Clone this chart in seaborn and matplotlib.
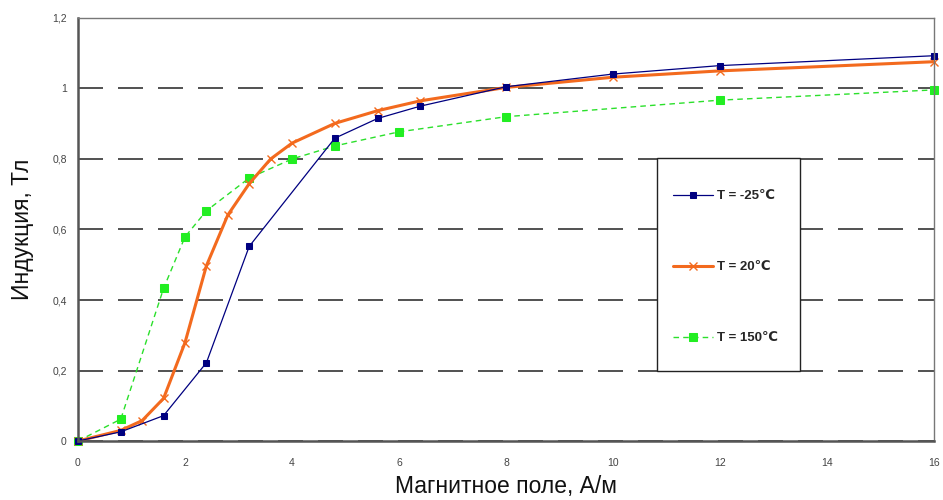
import matplotlib
matplotlib.use("Agg")
import matplotlib.pyplot as plt
from matplotlib.patches import Rectangle
from matplotlib.ticker import MultipleLocator, FuncFormatter
import seaborn as sns

# ------------------------------------------------------------
# data
# ------------------------------------------------------------
x_cold = [0, 0.8, 1.6, 2.4, 3.2, 4.8, 5.6, 6.4, 8, 10, 12, 16]
y_cold = [0, 0.026, 0.072, 0.222, 0.552, 0.859, 0.915, 0.950, 1.005, 1.041, 1.065, 1.093]

x_room = [0, 0.8, 1.2, 1.6, 2.0, 2.4, 2.8, 3.2, 3.6, 4.0, 4.8, 5.6, 6.4, 8, 10, 12, 16]
y_room = [0, 0.03, 0.058, 0.121, 0.279, 0.497, 0.641, 0.73, 0.80, 0.845, 0.901,
          0.937, 0.965, 1.003, 1.032, 1.050, 1.076]

x_hot = [0, 0.8, 1.6, 2.0, 2.4, 3.2, 4.0, 4.8, 6.0, 8, 12, 16]
y_hot = [0, 0.062, 0.433, 0.579, 0.653, 0.746, 0.80, 0.837, 0.877, 0.920, 0.967, 0.996]

labels = ["T = -25\u2103", "T = 20\u2103", "T = 150\u2103"]

sns.set_style("white")
plt.rcParams['font.family'] = ['Liberation Sans', 'DejaVu Sans']

fig = plt.figure(figsize=(9.43, 5.0), dpi=100)
ax = fig.add_axes([0.0827, 0.118, 0.9078, 0.846])

sns.lineplot(x=x_cold, y=y_cold, ax=ax, color='#000080', linewidth=0.9,
             marker='s', markersize=5, markeredgecolor='#000080',
             label=labels[0], sort=False, clip_on=False, zorder=5)
sns.lineplot(x=x_room, y=y_room, ax=ax, color='#F36A1E', linewidth=2.2,
             marker='x', markersize=5.5, markeredgewidth=1.0, markeredgecolor='#F36A1E',
             label=labels[1], sort=False, clip_on=False, zorder=4)
sns.lineplot(x=x_hot, y=y_hot, ax=ax, color='#2BE02B', linewidth=1.0,
             linestyle=(0, (4, 3)), marker='s', markersize=6,
             markerfacecolor='#22EE22', markeredgecolor='#22EE22',
             label=labels[2], sort=False, clip_on=False, zorder=3)

ax.set_xlim(0, 16)
ax.set_ylim(0, 1.2)
ax.xaxis.set_major_locator(MultipleLocator(2))
ax.xaxis.set_minor_locator(MultipleLocator(1))
ax.yaxis.set_major_locator(MultipleLocator(0.2))
ax.yaxis.set_minor_locator(MultipleLocator(0.1))

# comma decimal separator like the original
ax.yaxis.set_major_formatter(FuncFormatter(lambda v, p: f"{v:g}".replace('.', ',')))
ax.xaxis.set_major_formatter(FuncFormatter(lambda v, p: f"{v:g}"))

ax.grid(axis='y', linestyle=(0, (15, 9)), linewidth=1.2, color='#333333')
ax.grid(axis='x', visible=False)
ax.set_axisbelow(True)

for side in ['left', 'bottom']:
    ax.spines[side].set_color('#555555')
    ax.spines[side].set_linewidth(1.8)
    ax.spines[side].set_zorder(6)
for side in ['top', 'right']:
    ax.spines[side].set_color('#777777')
    ax.spines[side].set_linewidth(1.0)
    ax.spines[side].set_zorder(6)

ax.tick_params(axis='x', which='major', direction='inout', length=8, width=1.2,
               color='#444444', labelsize=7.5, labelcolor='#444444', pad=8)
ax.tick_params(axis='x', which='minor', direction='inout', length=4, width=1,
               color='#444444')
ax.tick_params(axis='y', which='major', direction='out', length=5, width=1.2,
               color='#444444', labelsize=7.5, labelcolor='#444444', pad=3)
ax.tick_params(axis='y', which='minor', direction='inout', length=4, width=1,
               color='#444444')

ax.set_xlabel("Магнитное поле, А/м", fontsize=16.5, color='#111111', labelpad=5)
ax.set_ylabel("Индукция, Тл", fontsize=16.5, color='#111111', labelpad=13)

# legend box (white panel with black frame) and entries inside it
box = Rectangle((0.676, 0.1655), 0.1675, 0.5035, transform=ax.transAxes,
                facecolor='white', edgecolor='#222222', linewidth=1.0, zorder=8)
ax.add_patch(box)
leg = ax.legend(loc='center left', bbox_to_anchor=(0.6875, 0.411), frameon=False,
                borderpad=0, labelspacing=4.45, handlelength=3.0, handletextpad=0.3,
                prop={'size': 9.5, 'weight': 'bold'})
leg.set_zorder(9)

plt.savefig("out.png", dpi=100, facecolor='white')
plt.close()
